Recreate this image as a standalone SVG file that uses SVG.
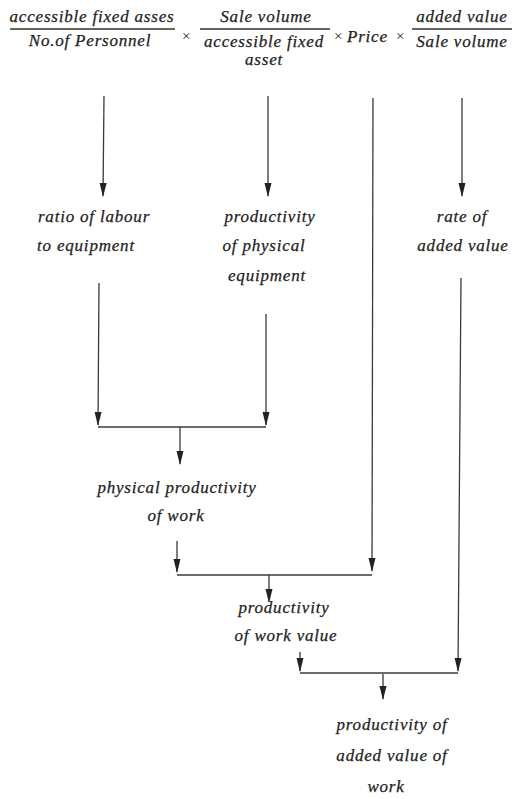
<svg xmlns="http://www.w3.org/2000/svg" width="516" height="799" viewBox="0 0 516 799">
  <style>
    text { font-family: "Liberation Serif", "DejaVu Serif", serif; font-style: italic; font-size: 17px; fill: #222; letter-spacing: 0.8px; stroke: #222; stroke-width: 0.25px; }
    .mid { text-anchor: middle; }
    .bar { stroke: #333; stroke-width: 1.6; }
    .wire { stroke: #3a3a3a; stroke-width: 1.3; fill: none; }
    .op { font-style: normal; font-size: 15px; stroke: none; }
  </style>
  <defs>
    <marker id="arrow" viewBox="0 0 14 8" refX="13" refY="4" markerWidth="14" markerHeight="8" markerUnits="userSpaceOnUse" orient="auto">
      <path d="M0,0.5 L14,4 L0,7.5 Z" fill="#222"/>
    </marker>
  </defs>

  <!-- formula: ratio chain -->
  <g id="formula">
    <text class="mid" x="92" y="22">accessible fixed asses</text>
    <line class="bar" x1="10" y1="29" x2="175" y2="29"/>
    <text class="mid" x="90" y="46">No.of Personnel</text>
    <text class="op" x="182" y="41">×</text>
    <text class="mid" x="266" y="22">Sale volume</text>
    <line class="bar" x1="200" y1="29" x2="330" y2="29"/>
    <text class="mid" x="264" y="47">accessible fixed</text>
    <text class="mid" x="264" y="65">asset</text>
    <text class="op" x="334" y="41">×</text>
    <text x="347" y="42">Price</text>
    <text class="op" x="396" y="41">×</text>
    <text class="mid" x="462" y="22">added value</text>
    <line class="bar" x1="412" y1="29" x2="512" y2="29"/>
    <text class="mid" x="462" y="47">Sale volume</text>
  </g>

  <g id="ratio-labour">
    <text class="mid" x="94" y="222">ratio of labour</text>
    <text class="mid" x="86" y="251">to equipment</text>
  </g>
  <g id="productivity-physical">
    <text class="mid" x="270" y="222">productivity</text>
    <text class="mid" x="264" y="251">of physical</text>
    <text class="mid" x="267" y="281">equipment</text>
  </g>
  <g id="rate-added-value">
    <text class="mid" x="462" y="222">rate of</text>
    <text class="mid" x="463" y="251">added value</text>
  </g>
  <g id="physical-productivity-work">
    <text class="mid" x="177" y="493">physical productivity</text>
    <text class="mid" x="176" y="521">of work</text>
  </g>
  <g id="productivity-work-value">
    <text class="mid" x="284" y="613">productivity</text>
    <text class="mid" x="286" y="641">of work value</text>
  </g>
  <g id="productivity-added-value">
    <text class="mid" x="392" y="730">productivity of</text>
    <text class="mid" x="392" y="761">added value of</text>
    <text class="mid" x="386" y="792">work</text>
  </g>

  <g id="connectors">
    <line class="wire" x1="104" y1="96" x2="103" y2="196" marker-end="url(#arrow)"/>
    <line class="wire" x1="268" y1="96" x2="268" y2="196" marker-end="url(#arrow)"/>
    <line class="wire" x1="462" y1="98" x2="462" y2="196" marker-end="url(#arrow)"/>
    <line class="wire" x1="373" y1="98" x2="372" y2="571" marker-end="url(#arrow)"/>

    <line class="wire" x1="99" y1="283" x2="98" y2="425" marker-end="url(#arrow)"/>
    <line class="wire" x1="266" y1="314" x2="266" y2="425" marker-end="url(#arrow)"/>
    <polyline class="wire" points="98,427 266,427"/>
    <line class="wire" x1="180" y1="427" x2="180" y2="464" marker-end="url(#arrow)"/>

    <line class="wire" x1="177" y1="541" x2="177" y2="572" marker-end="url(#arrow)"/>
    <polyline class="wire" points="177,575 372,575"/>
    <line class="wire" x1="269" y1="575" x2="269" y2="602" marker-end="url(#arrow)"/>

    <line class="wire" x1="300" y1="652" x2="300" y2="671" marker-end="url(#arrow)"/>
    <line class="wire" x1="461" y1="278" x2="458" y2="671" marker-end="url(#arrow)"/>
    <polyline class="wire" points="300,673 458,673"/>
    <line class="wire" x1="383" y1="674" x2="383" y2="699" marker-end="url(#arrow)"/>
  </g>
</svg>
